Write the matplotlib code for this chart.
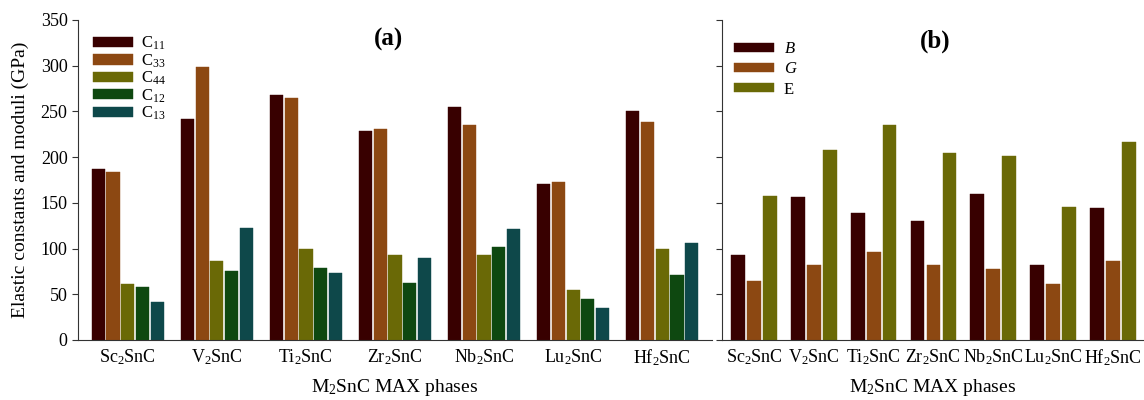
import matplotlib
matplotlib.use("Agg")
import matplotlib.pyplot as plt
import numpy as np

plt.rcParams['font.family'] = ['Liberation Serif', 'DejaVu Serif']
plt.rcParams['mathtext.fontset'] = 'custom'
plt.rcParams['mathtext.rm'] = 'Liberation Serif'
plt.rcParams['mathtext.it'] = 'Liberation Serif:italic'
plt.rcParams['mathtext.bf'] = 'Liberation Serif:bold'

phases = [r'Sc$_2$SnC', r'V$_2$SnC', r'Ti$_2$SnC', r'Zr$_2$SnC', r'Nb$_2$SnC', r'Lu$_2$SnC', r'Hf$_2$SnC']

C11 = [187, 242, 268, 229, 255, 171, 250]
C33 = [184, 299, 265, 231, 235, 173, 238]
C44 = [61, 86, 99, 93, 93, 55, 100]
C12 = [58, 75, 79, 62, 102, 45, 71]
C13 = [42, 123, 73, 90, 121, 35, 106]

B = [93, 156, 139, 130, 160, 82, 144]
G = [65, 82, 96, 82, 78, 61, 86]
E = [157, 208, 235, 205, 201, 146, 217]

labels_a = [r'C$_{11}$', r'C$_{33}$', r'C$_{44}$', r'C$_{12}$', r'C$_{13}$']
labels_b = [r'$B$', r'$G$', 'E']
colors = ['#380000', '#8c4812', '#6a6906', '#0e4810', '#0e484a']
colors_b = ['#380000', '#8c4812', '#6a6906']

fig = plt.figure(figsize=(11.44, 4.0), dpi=100)
ax1 = fig.add_axes([78/1144, 60/400, (712-78)/1144, 320/400])
ax2 = fig.add_axes([722/1144, 60/400, (1144-722)/1144, 320/400])

x = np.arange(len(phases))
slot = 0.166
bw = 0.148
for i, (vals, lab) in enumerate(zip([C11, C33, C44, C12, C13], labels_a)):
    ax1.bar(x + (i - 2) * slot, vals, width=bw, color=colors[i], label=lab,
            edgecolor=colors[i], linewidth=0.3)

slot_b = 0.267
bw_b = 0.23
for i, (vals, lab) in enumerate(zip([B, G, E], labels_b)):
    ax2.bar(x + (i - 1) * slot_b, vals, width=bw_b, color=colors_b[i], label=lab,
            edgecolor=colors_b[i], linewidth=0.3)

for ax in (ax1, ax2):
    ax.set_ylim(0, 350)
    ax.set_yticks(np.arange(0, 351, 50))
    ax.spines['top'].set_visible(False)
    ax.spines['right'].set_visible(False)
    ax.spines['left'].set_color('#333333')
    ax.spines['bottom'].set_color('#333333')
    ax.tick_params(axis='y', direction='out', length=4, labelsize=13, color='#333333')
    ax.tick_params(axis='x', length=0, labelsize=13, pad=5)
    ax.set_xticks(x)
    ax.set_xticklabels(phases)
    ax.set_xlabel(r'M$_2$SnC MAX phases', fontsize=14, labelpad=7)

ax1.set_xlim(-0.56, 6.56)
ax2.set_xlim(-0.535, 6.52)
ax2.tick_params(axis='y', labelleft=False)
ax1.set_ylabel('Elastic constants and moduli (GPa)', fontsize=14, labelpad=8)

ax1.text(0.49, 0.94, '(a)', transform=ax1.transAxes, fontsize=18, fontweight='bold', ha='center', va='center')
ax2.text(0.505, 0.935, '(b)', transform=ax2.transAxes, fontsize=18, fontweight='bold', ha='center', va='center')

leg1 = ax1.legend(loc='upper left', bbox_to_anchor=(0.0, 1.0), frameon=False, fontsize=12,
                  handlelength=2.4, handleheight=0.55, labelspacing=0.0, handletextpad=0.5,
                  borderaxespad=0.5)
leg2 = ax2.legend(loc='upper left', bbox_to_anchor=(0.0, 0.97), frameon=False, fontsize=12,
                  handlelength=2.4, handleheight=0.5, labelspacing=0.25, handletextpad=0.6,
                  borderaxespad=0.3)

fig.savefig('out.png', dpi=100)
